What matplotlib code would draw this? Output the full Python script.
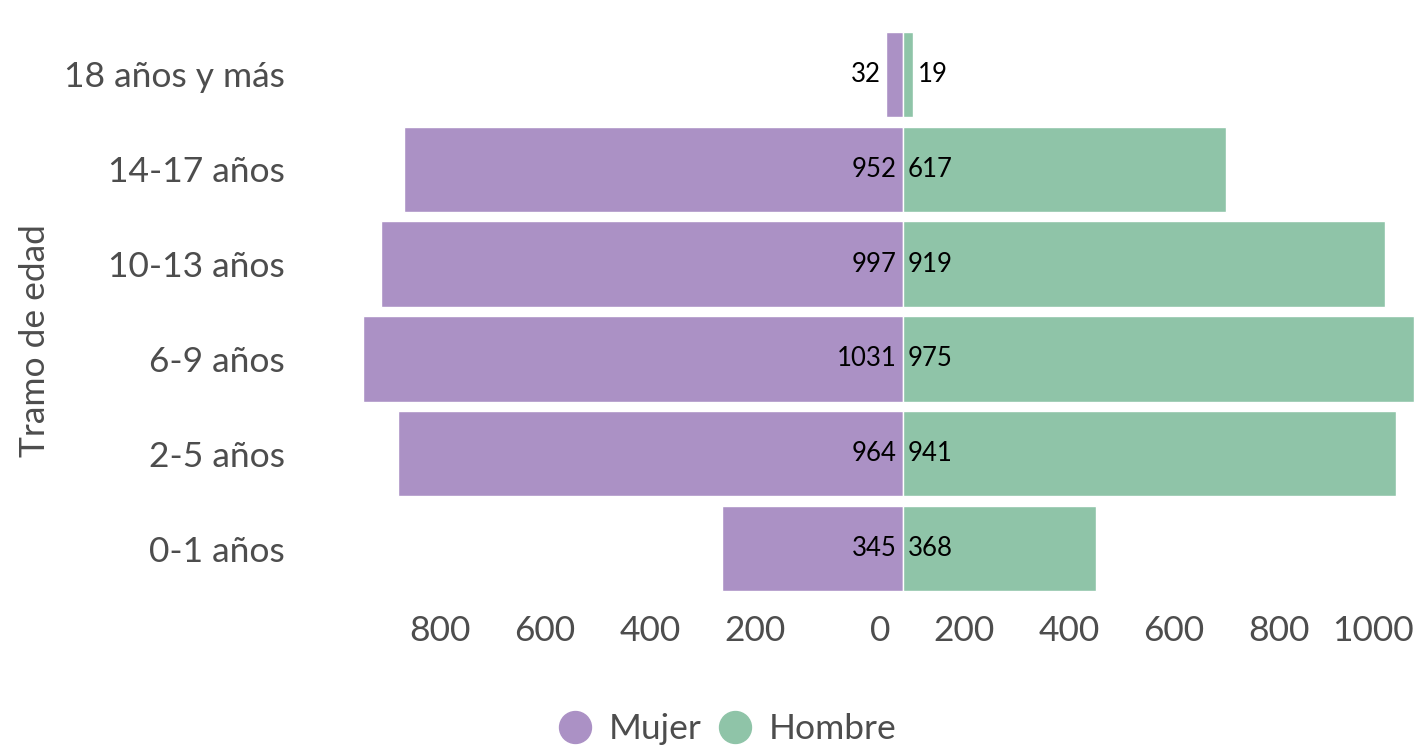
import matplotlib.pyplot as plt
import numpy as np
from matplotlib.lines import Line2D
from matplotlib.transforms import offset_copy

plt.rcParams["font.family"] = ["Lato", "DejaVu Sans"]

tramos = ["0-1 años", "2-5 años", "6-9 años", "10-13 años", "14-17 años", "18 años y más"]
mujer = [345, 964, 1031, 997, 952, 32]
hombre = [368, 941, 975, 919, 617, 19]
x_ticks = [-800, -600, -400, -200, 0, 200, 400, 600, 800, 1000]
x_tick_labels = ["800", "600", "400", "200", "0", "200", "400", "600", "800", "1000"]

COL_MUJER = "#AB91C5"
COL_HOMBRE = "#8FC4A8"
GREY = "#4D4D4D"
FS = 25.5

W, H = 1417, 749
fig = plt.figure(figsize=(W / 100, H / 100), dpi=100)

# pixel layout: zero line at x=903, 0.524 px per unit
x_lim = 1050
px_per_unit = 0.524
left_px = 903 - x_lim * px_per_unit
width_px = 2 * x_lim * px_per_unit
top_px, bottom_px = 27, 596
ax = fig.add_axes([left_px / W, 1 - bottom_px / H, width_px / W, (bottom_px - top_px) / H])

y = np.arange(len(tramos))
ax.barh(y, -np.array(mujer), height=0.9, color=COL_MUJER, edgecolor="white", linewidth=1)
ax.barh(y, hombre, height=0.9, color=COL_HOMBRE, edgecolor="white", linewidth=1)

ax.set_xlim(-x_lim, x_lim)
ax.set_ylim(-0.5, len(tramos) - 0.5)

# value labels: inside near the centre, or just past the end of short bars
label_w = 30 / px_per_unit
for yi, m, h in zip(y, mujer, hombre):
    if m > label_w:
        t = offset_copy(ax.transData, fig=fig, x=-6, y=0, units="dots")
        ax.text(0, yi, str(m), transform=t, ha="right", va="center", fontsize=18.5, color="black")
    else:
        t = offset_copy(ax.transData, fig=fig, x=-5, y=0, units="dots")
        ax.text(-m, yi, str(m), transform=t, ha="right", va="center", fontsize=18.5, color="black")
    if h > label_w:
        t = offset_copy(ax.transData, fig=fig, x=5, y=0, units="dots")
        ax.text(0, yi, str(h), transform=t, ha="left", va="center", fontsize=18.5, color="black")
    else:
        t = offset_copy(ax.transData, fig=fig, x=5, y=0, units="dots")
        ax.text(h, yi, str(h), transform=t, ha="left", va="center", fontsize=18.5, color="black")

# x tick labels sit right-aligned ~13 px left of each value
shift = 13 / px_per_unit
ax.set_xticks(np.array(x_ticks) - shift)
ax.set_xticklabels(x_tick_labels, fontsize=FS, color=GREY, ha="right")
ax.tick_params(axis="x", length=0, pad=14)

ax.set_yticks(y)
ax.set_yticklabels(tramos, fontsize=FS, color=GREY)
ax.tick_params(axis="y", length=0, pad=(left_px - 285) / 100 * 72)

for s in ax.spines.values():
    s.set_visible(False)

fig.text(35 / W, 1 - 341 / H, "Tramo de edad", rotation=90, ha="center", va="center",
         fontsize=FS, color=GREY)

handles = [
    Line2D([], [], marker="o", linestyle="none", markersize=23, color=COL_MUJER, label="Mujer"),
    Line2D([], [], marker="o", linestyle="none", markersize=23, color=COL_HOMBRE, label="Hombre"),
]
fig.legend(handles=handles, loc="center", bbox_to_anchor=(727 / W, 1 - 729 / H), ncol=2,
           frameon=False, fontsize=FS, labelcolor=GREY, handletextpad=0.45,
           columnspacing=0.45, handlelength=1.0, borderpad=0)

fig.savefig("out.png", dpi=100)
